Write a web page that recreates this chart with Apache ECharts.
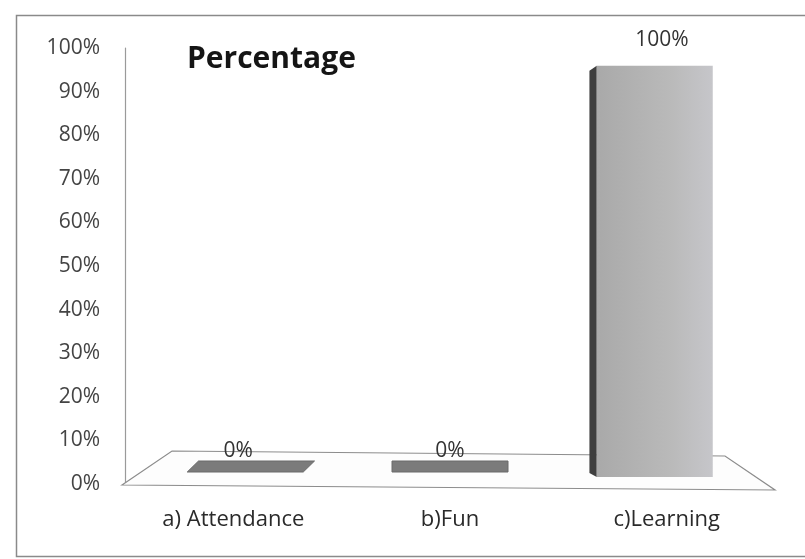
<!DOCTYPE html>
<html>
<head>
<meta charset="utf-8">
<script src="https://cdn.jsdelivr.net/npm/echarts@6/dist/echarts.min.js"></script>
<style>
  html, body { margin: 0; padding: 0; background: #fff; }
  #chart { width: 805px; height: 559px; }
</style>
</head>
<body>
<div id="chart"></div>
<script>
// data
const categories = ['a) Attendance', 'b)Fun', 'c)Learning']
const percentages = [0, 0, 100]
const yMin = 0
const yMax = 100
const yStep = 10

const labelFont = '"Open Sans", "Noto Sans", sans-serif'

// fake 3D floor under the bars, taken from the grid box
function renderFloor (params, api) {
  const cs = params.coordSys
  const y0 = cs.y + cs.height
  return {
    type: 'polygon',
    silent: true,
    shape: {
      points: [
        [cs.x - 3, y0 + 1],
        [cs.x + 47, y0 - 33],
        [cs.x + cs.width - 50, y0 - 28],
        [cs.x + cs.width, y0 + 6]
      ]
    },
    style: { fill: '#fdfdfd', stroke: '#8c8c8c', lineWidth: 1.2 }
  }
}

// 3D-looking bars, placed with the axis scales
function renderBar (params, api) {
  const cs = params.coordSys
  const mid = cs.x + cs.width / 2
  const base = api.coord([api.value(0), 0])
  const top = api.coord([api.value(0), api.value(1)])
  const bx = mid + (base[0] - mid) * 0.945
  const w = 58
  const y0 = base[1] - 7
  const h = (base[1] - top[1]) * 0.943
  const skew = -(bx - mid) * 0.055
  const children = []
  if (h < 1) {
    children.push({
      type: 'polygon',
      shape: {
        points: [
          [bx - w, y0 - 5], [bx + w, y0 - 5],
          [bx + w + skew, y0 - 16], [bx - w + skew, y0 - 16]
        ]
      },
      style: { fill: '#7b7b7b', stroke: '#6a6a6a', lineWidth: 1 }
    })
  } else {
    const yt = y0 - h
    const sx = skew * 0.65
    children.push({
      type: 'polygon',
      shape: {
        points: [[bx - w, yt], [bx - w + sx, yt + 5], [bx - w + sx, y0 - 4], [bx - w, y0]]
      },
      style: { fill: '#3e3e3e' }
    })
    children.push({
      type: 'rect',
      shape: { x: bx - w, y: yt, width: 2 * w, height: h },
      style: {
        fill: {
          type: 'linear', x: 0, y: 0, x2: 1, y2: 0,
          colorStops: [
            { offset: 0, color: '#a9a9a9' },
            { offset: 0.65, color: '#bababa' },
            { offset: 1, color: '#c6c6ca' }
          ]
        }
      }
    })
  }
  children.push({
    type: 'text',
    style: {
      text: api.value(1) + '%',
      x: base[0] + (bx - base[0]) * 0.4,
      y: y0 - h - 26,
      align: 'center',
      verticalAlign: 'middle',
      font: '21px ' + labelFont,
      fill: '#333'
    }
  })
  return { type: 'group', children: children }
}

const chart = echarts.init(document.getElementById('chart'))
chart.setOption({
  animation: false,
  backgroundColor: '#fff',
  title: {
    text: 'Percentage',
    left: 182,
    top: 39,
    textStyle: { fontFamily: labelFont, fontSize: 30, fontWeight: 'bold', color: '#151515' }
  },
  graphic: [{
    type: 'rect',
    left: 14,
    top: 13,
    shape: { width: 800, height: 541 },
    style: { fill: 'none', stroke: '#8a8a8a', lineWidth: 1.5 },
    silent: true
  }],
  grid: { left: 125, right: 30, top: 48, bottom: 75 },
  xAxis: {
    type: 'category',
    data: categories,
    axisLine: { show: false },
    axisTick: { show: false },
    axisLabel: { margin: 25, fontFamily: labelFont, fontSize: 22, color: '#2a2a2a' }
  },
  yAxis: {
    type: 'value',
    min: yMin,
    max: yMax,
    interval: yStep,
    axisLine: { show: true, lineStyle: { color: '#9a9a9a', width: 1.2 } },
    axisTick: { show: false },
    splitLine: { show: false },
    axisLabel: { margin: 25, formatter: '{value}%', fontFamily: labelFont, fontSize: 21, color: '#444' }
  },
  series: [{
    type: 'custom',
    renderItem: renderFloor,
    data: [[0, 0]],
    silent: true,
    z: 1
  }, {
    type: 'custom',
    renderItem: renderBar,
    data: categories.map((c, i) => [i, percentages[i]]),
    z: 2
  }]
})
</script>
</body>
</html>
